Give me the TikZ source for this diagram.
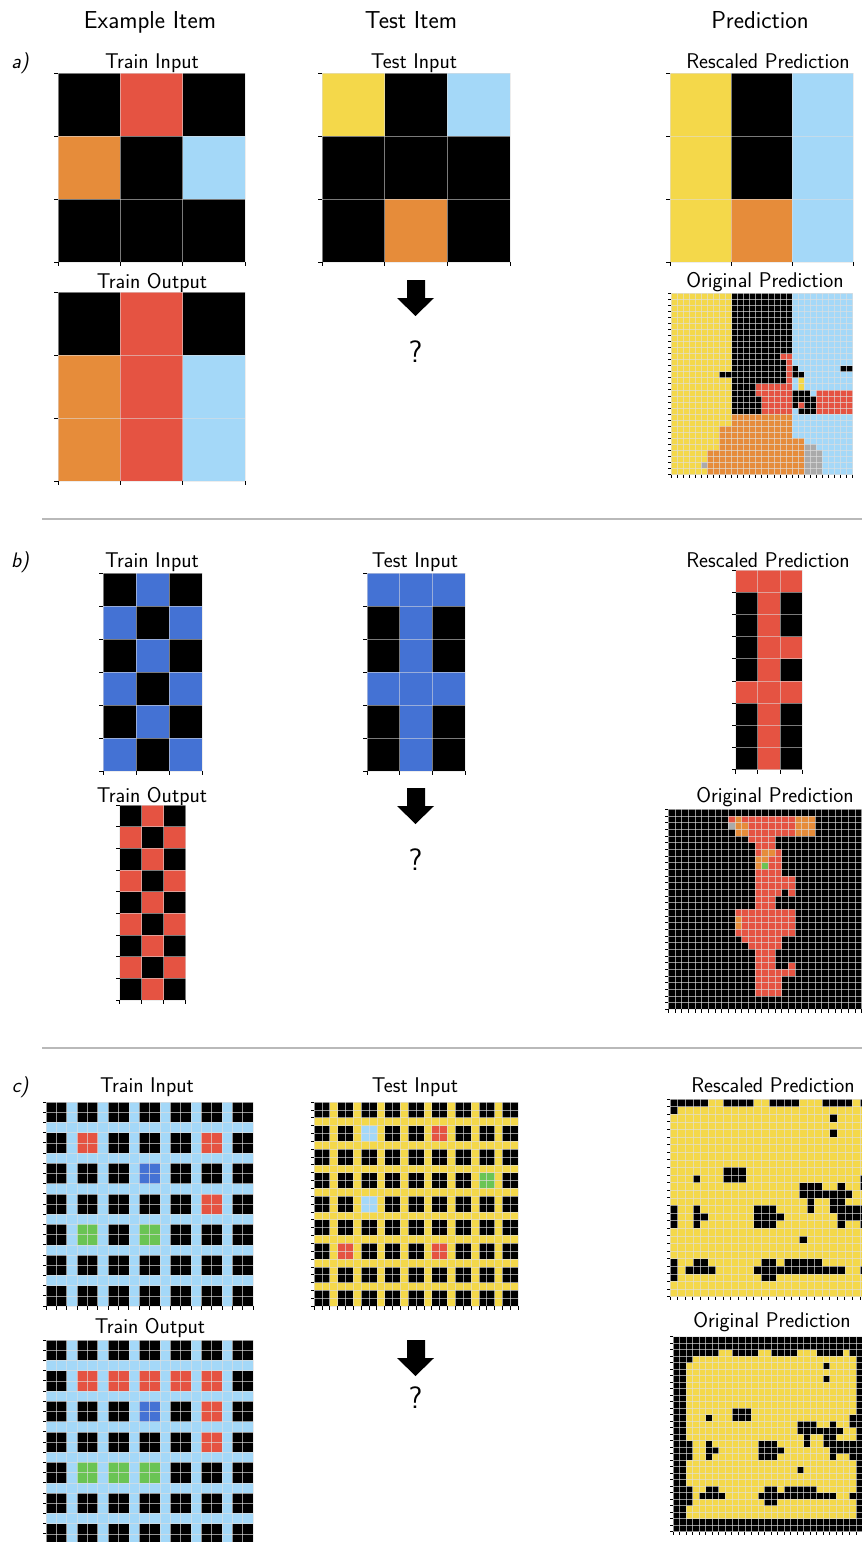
\documentclass[tikz,border=0pt]{standalone}
\definecolor{cK}{RGB}{0,0,0}
\definecolor{cR}{RGB}{229,83,66}
\definecolor{cB}{RGB}{68,114,212}
\definecolor{cG}{RGB}{106,196,84}
\definecolor{cY}{RGB}{244,216,74}
\definecolor{cO}{RGB}{230,140,58}
\definecolor{cL}{RGB}{164,216,248}
\definecolor{cS}{RGB}{170,170,170}
\definecolor{sepc}{RGB}{185,185,185}
\tikzset{
  glA/.style={draw=white!75!gray, opacity=0.55, line width=0.9pt},
  glC/.style={draw=white!75!gray, opacity=0.65, line width=0.55pt},
  tk/.style={draw=black, line width=0.7pt},
  ttl/.style={font=\fontsize{24.5}{28}\selectfont\sffamily, anchor=base, inner sep=0pt},
  sub/.style={font=\fontsize{21.3}{25}\selectfont\sffamily, anchor=base, inner sep=0pt},
  lab/.style={font=\fontsize{21}{25}\selectfont\sffamily\slshape, anchor=base, inner sep=0pt},
  qm/.style={font=\fontsize{31}{35}\selectfont\sffamily, inner sep=0pt},
  arr/.style={fill=black},
  sep/.style={draw=sepc, line width=2pt}
}
\newcommand\setgrid[4]{\def\gx{#1}\def\gy{#2}\def\gw{#3}\def\gh{#4}}
\newcommand\gbg[3]{\fill[#3] (\gx,\gy) rectangle ({\gx+#1*\gw},{\gy+#2*\gh});}
\newcommand\cel[3]{\fill[#3] ({\gx+#1*\gw},{\gy+#2*\gh}) rectangle ({\gx+(#1+1)*\gw},{\gy+(#2+1)*\gh});}
\newcommand\hrun[4]{\fill[#4] ({\gx+#2*\gw},{\gy+#1*\gh}) rectangle ({\gx+(#3+1)*\gw},{\gy+(#1+1)*\gh});}
\newcommand\gblock[5]{\fill[#5] ({\gx+#1*\gw},{\gy+#3*\gh}) rectangle ({\gx+(#2+1)*\gw},{\gy+(#4+1)*\gh});}
\newcommand\glines[4]{%
  \foreach \i in {0,...,#1}{\draw[#3] ({\gx+\i*\gw},\gy) -- ({\gx+\i*\gw},{\gy+#2*\gh});}
  \foreach \j in {0,...,#2}{\draw[#3] (\gx,{\gy+\j*\gh}) -- ({\gx+#1*\gw},{\gy+\j*\gh});}
  \foreach \j in {0,...,#2}{\draw[tk] (\gx,{\gy+\j*\gh}) -- ({\gx-#4},{\gy+\j*\gh});}
  \foreach \i in {0,...,#1}{\draw[tk] ({\gx+\i*\gw},{\gy+#2*\gh}) -- ({\gx+\i*\gw},{\gy+#2*\gh+#4});}
}
\newcommand\gpairs[2]{\foreach \a in {0,...,#1}{\foreach \b in {0,...,#1}{\fill[#2] ({\gx+3*\a*\gw},{\gy+3*\b*\gh}) rectangle ({\gx+(3*\a+2)*\gw},{\gy+(3*\b+2)*\gh});}}}
\newcommand\gpc[3]{\fill[#3] ({\gx+3*#1*\gw},{\gy+3*#2*\gh}) rectangle ({\gx+(3*#1+2)*\gw},{\gy+(3*#2+2)*\gh});}
\newcommand\bigdownarr[1]{\fill[arr] (407,#1) -- (425,#1) -- (425,{#1+18}) -- (434,{#1+18}) -- (415.5,{#1+36}) -- (397,{#1+18}) -- (407,{#1+18}) -- cycle;}
% inner 26x26 prediction of item c (row/first col/last col of black runs)
\def\cpred{0/0/4,0/7/10,0/13/16,0/20/23,0/25/25,1/0/0,2/21/21,4/21/21,9/7/9,
  10/3/3,10/7/9,10/25/25,11/17/19,11/22/22,11/25/25,12/17/23,13/18/18,13/21/22,
  14/0/0,14/3/3,14/11/13,14/18/18,14/21/25,15/0/0,15/3/4,15/11/14,15/22/25,
  16/0/0,16/3/3,16/11/13,16/22/22,16/25/25,18/17/17,
  21/0/0,21/3/4,21/12/13,21/15/19,22/0/0,22/2/5,22/11/22,22/25/25,23/0/0,23/12/13}
\begin{document}
\begin{tikzpicture}[x=1pt,y=-1pt]
\useasboundingbox (0,0) rectangle (862,1542);
\fill[white] (0,0) rectangle (862,1542);
% headers
\node[ttl] (hEx) at (150,28) {Example Item};
\node[ttl] (hTe) at (411,28) {Test Item};
\node[ttl] (hPr) at (760,28) {Prediction};
% ================= a)
\node[lab] (la) at (20,68) {a)};
\node[sub] (aTIl) at (152,68) {Train Input};
\node[sub] (aTOl) at (152,288) {Train Output};
\node[sub] (aXIl) at (414,68) {Test Input};
\node[sub] (aRPl) at (768,68) {Rescaled Prediction};
\node[sub] (aOPl) at (765,287) {Original Prediction};
% a train input
\setgrid{58}{73}{62.33}{63}
\gbg{3}{3}{cK}
\cel{1}{0}{cR}\cel{0}{1}{cO}\cel{2}{1}{cL}
\glines{3}{3}{glA}{4}
% a train output
\setgrid{58}{292}{62.33}{63}
\gbg{3}{3}{cK}
\gblock{1}{1}{0}{2}{cR}\gblock{0}{0}{1}{2}{cO}\gblock{2}{2}{1}{2}{cL}
\glines{3}{3}{glA}{4}
% a test input
\setgrid{322}{73}{62.67}{63}
\gbg{3}{3}{cK}
\cel{0}{0}{cY}\cel{2}{0}{cL}\cel{1}{2}{cO}
\glines{3}{3}{glA}{4}
% a rescaled
\setgrid{670}{73}{61}{63}
\gbg{3}{3}{cK}
\gblock{0}{0}{0}{2}{cY}\gblock{2}{2}{0}{2}{cL}\cel{1}{2}{cO}
\glines{3}{3}{glA}{4}
% a original
\setgrid{671}{293}{6.05}{6.05}
\gbg{30}{30}{cL}
\gblock{0}{9}{0}{21}{cY}\gblock{0}{7}{22}{25}{cY}\gblock{0}{5}{26}{29}{cY}
\gblock{10}{19}{0}{19}{cK}
\cel{8}{13}{cK}\cel{9}{13}{cK}
\hrun{10}{18}{19}{cR}\gblock{19}{19}{11}{14}{cR}
\hrun{15}{14}{19}{cR}\hrun{16}{14}{19}{cR}\gblock{15}{19}{17}{19}{cR}
\cel{20}{12}{cK}\hrun{13}{20}{21}{cK}\gblock{21}{21}{14}{15}{cY}
\hrun{16}{20}{22}{cK}\hrun{17}{20}{23}{cK}\cel{20}{18}{cK}\cel{21}{18}{cR}\hrun{18}{22}{23}{cK}\hrun{19}{21}{23}{cK}
\hrun{12}{28}{29}{cK}
\gblock{24}{29}{16}{19}{cR}
\gblock{10}{19}{20}{21}{cO}\gblock{8}{19}{22}{23}{cO}\gblock{8}{21}{24}{25}{cO}\gblock{6}{21}{26}{29}{cO}
\hrun{25}{22}{23}{cS}\gblock{22}{24}{26}{29}{cS}\cel{5}{28}{cS}
\glines{30}{30}{glC}{3.5}
% a arrow
\bigdownarr{280}
\node[qm] (aQ) at (415.5,352) {?};
\draw[sep] (42,519) -- (862,519);
% ================= b)
\node[lab] (lb) at (20,567) {b)};
\node[sub] (bTIl) at (152,567) {Train Input};
\node[sub] (bTOl) at (152,802) {Train Output};
\node[sub] (bXIl) at (415,567) {Test Input};
\node[sub] (bRPl) at (768,567) {Rescaled Prediction};
\node[sub] (bOPl) at (775,802) {Original Prediction};
% b train input
\setgrid{103}{573}{33}{33}
\gbg{3}{6}{cK}
\foreach \c/\r in {1/0,0/1,2/1,1/2,0/3,2/3,1/4,0/5,2/5}{\cel{\c}{\r}{cB}}
\glines{3}{6}{glA}{4}
% b train output
\setgrid{119.5}{805}{22}{21.67}
\gbg{3}{9}{cK}
\foreach \r in {0,2,4,6,8}{\cel{1}{\r}{cR}}
\foreach \r in {1,3,5,7}{\cel{0}{\r}{cR}\cel{2}{\r}{cR}}
\glines{3}{9}{glA}{4}
% b test input
\setgrid{367}{573}{32.67}{33}
\gbg{3}{6}{cK}
\gblock{1}{1}{0}{5}{cB}\hrun{0}{0}{2}{cB}\hrun{3}{0}{2}{cB}
\glines{3}{6}{glA}{4}
% b rescaled
\setgrid{735.5}{570}{22.3}{22.2}
\gbg{3}{9}{cK}
\gblock{1}{1}{0}{8}{cR}\hrun{0}{0}{2}{cR}\hrun{5}{0}{2}{cR}\cel{2}{3}{cR}
\glines{3}{9}{glA}{4}
% b original
\setgrid{668.3}{809.3}{6.67}{6.67}
\gbg{30}{30}{cK}
\cel{9}{1}{cR}\cel{10}{1}{cO}\hrun{1}{11}{18}{cR}
\cel{9}{2}{cS}\hrun{2}{10}{11}{cO}\hrun{2}{12}{18}{cR}
\hrun{3}{10}{11}{cO}\hrun{3}{12}{18}{cR}
\gblock{19}{21}{1}{3}{cO}
\hrun{4}{12}{15}{cR}\hrun{5}{13}{15}{cR}
\cel{13}{6}{cR}\hrun{6}{14}{15}{cO}\cel{16}{6}{cR}
\hrun{7}{13}{14}{cO}\hrun{7}{15}{16}{cR}
\cel{13}{8}{cO}\cel{14}{8}{cG}\hrun{8}{15}{16}{cR}
\hrun{9}{13}{16}{cR}\hrun{10}{13}{18}{cR}\hrun{11}{13}{18}{cR}
\hrun{12}{13}{16}{cR}\cel{18}{12}{cR}
\hrun{13}{13}{15}{cR}\hrun{14}{13}{15}{cR}
\gblock{10}{18}{15}{18}{cR}\gblock{10}{10}{16}{17}{cO}
\hrun{19}{11}{16}{cR}\hrun{20}{12}{16}{cR}
\hrun{21}{13}{15}{cR}\hrun{22}{13}{15}{cR}\hrun{23}{13}{15}{cR}\cel{18}{23}{cR}
\hrun{24}{13}{18}{cR}\gblock{13}{16}{25}{27}{cR}
\glines{30}{30}{glC}{3.5}
\bigdownarr{788}
\node[qm] (bQ) at (415.5,860) {?};
\draw[sep] (42,1048) -- (862,1048);
% ================= c)
\node[lab] (lc) at (20,1092) {c)};
\node[sub] (cTIl) at (147,1092) {Train Input};
\node[sub] (cTOl) at (150,1333) {Train Output};
\node[sub] (cXIl) at (415,1092) {Test Input};
\node[sub] (cRPl) at (773,1092) {Rescaled Prediction};
\node[sub] (cOPl) at (772,1327) {Original Prediction};
% c train input
\setgrid{46}{1102}{10.35}{10.2}
\gbg{20}{20}{cL}
\gpairs{6}{cK}
\gpc{1}{1}{cR}\gpc{5}{1}{cR}\gpc{3}{2}{cB}\gpc{5}{3}{cR}\gpc{1}{4}{cG}\gpc{3}{4}{cG}
\glines{20}{20}{glC}{3.5}
% c train output
\setgrid{46}{1340}{10.35}{10.2}
\gbg{20}{20}{cL}
\gpairs{6}{cK}
\foreach \k in {1,...,5}{\gpc{\k}{1}{cR}}
\gpc{3}{2}{cB}\gpc{5}{2}{cR}\gpc{5}{3}{cR}\gpc{1}{4}{cG}\gpc{2}{4}{cG}\gpc{3}{4}{cG}
\glines{20}{20}{glC}{3.5}
% c test input
\setgrid{314}{1102}{7.85}{7.85}
\gbg{26}{26}{cY}
\gpairs{8}{cK}
\gpc{2}{1}{cL}\gpc{5}{1}{cR}\gpc{7}{3}{cG}\gpc{2}{4}{cL}\gpc{1}{6}{cR}\gpc{5}{6}{cR}
\glines{26}{26}{glC}{3.5}
% c rescaled
\setgrid{670}{1099}{7.6}{7.6}
\gbg{26}{26}{cY}
\foreach \r/\p/\q in \cpred {\hrun{\r}{\p}{\q}{cK}}
\glines{26}{26}{glC}{3.5}
% c original: same 26x26 inside a two-cell black frame
\setgrid{673}{1336.7}{6.53}{6.5}
\gbg{30}{30}{cK}
\gblock{2}{27}{2}{27}{cY}
\setgrid{686.06}{1349.7}{6.53}{6.5}
\foreach \r/\p/\q in \cpred {\hrun{\r}{\p}{\q}{cK}}
\setgrid{673}{1336.7}{6.53}{6.5}
\glines{30}{30}{glC}{3.5}
\bigdownarr{1340}
\node[qm] (cQ) at (415.5,1398) {?};
\end{tikzpicture}
\end{document}
